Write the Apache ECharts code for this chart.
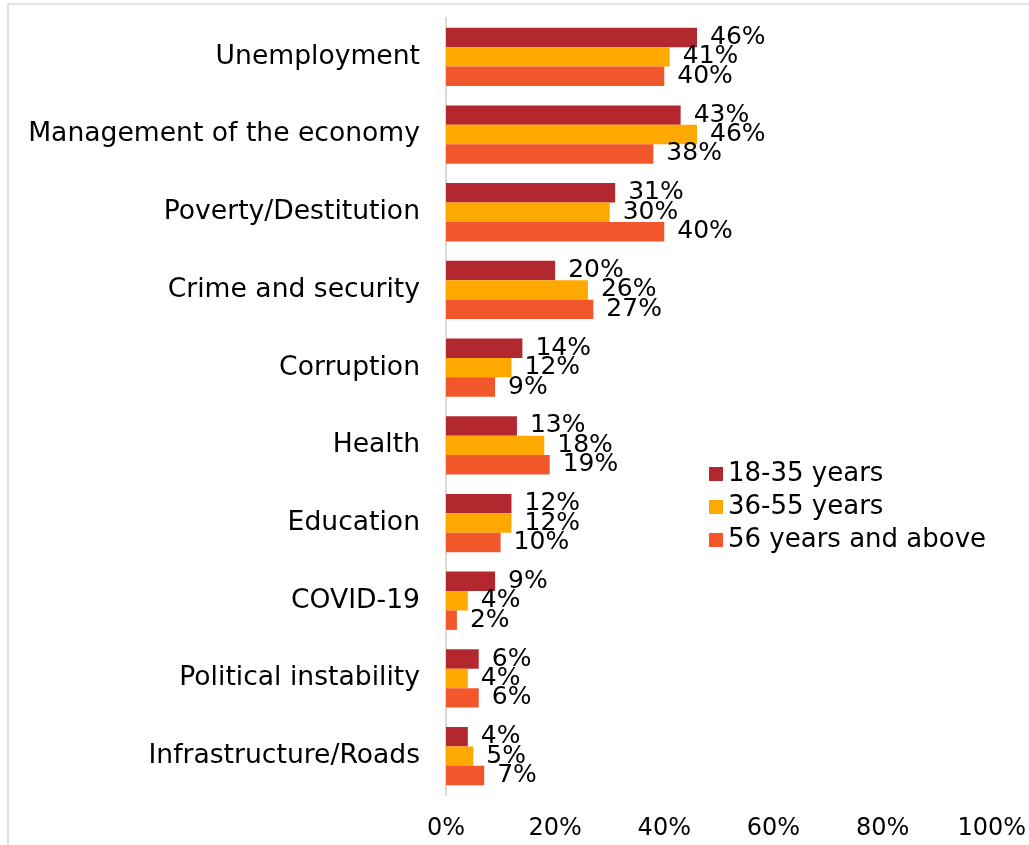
<!DOCTYPE html>
<html>
<head>
<meta charset="utf-8">
<script src="https://cdn.jsdelivr.net/npm/echarts@6/dist/echarts.min.js"></script>
<style>
  html, body { margin: 0; padding: 0; background: #fff; }
  #chart { width: 1029px; height: 845px; }
</style>
</head>
<body>
<div id="chart"></div>
<script>
// Most important problems facing the country, by age group (%)
const categories = [
  'Unemployment',
  'Management of the economy',
  'Poverty/Destitution',
  'Crime and security',
  'Corruption',
  'Health',
  'Education',
  'COVID-19',
  'Political instability',
  'Infrastructure/Roads'
];
const seriesNames = ['18-35 years', '36-55 years', '56 years and above'];
const age18to35 = [46, 43, 31, 20, 14, 13, 12, 9, 6, 4];
const age36to55 = [41, 46, 30, 26, 12, 18, 12, 4, 4, 5];
const age56plus = [40, 38, 40, 27, 9, 19, 10, 2, 6, 7];
const xTicks = [0, 20, 40, 60, 80, 100];
const colors = ['#B3282E', '#FFA800', '#F1572B'];

const FONT = 'DejaVu Sans';
const seriesData = [age18to35, age36to55, age56plus];

const chart = echarts.init(document.getElementById('chart'));
chart.setOption({
  animation: false,
  textStyle: { fontFamily: FONT },
  graphic: [{
    type: 'rect',
    shape: { x: 8, y: 4, width: 1040, height: 860 },
    style: { fill: 'none', stroke: '#D9D9D9', lineWidth: 1.5 },
    silent: true
  }],
  grid: { left: 446, right: 34, top: 18, bottom: 50 },
  legend: {
    orient: 'vertical',
    left: 704,
    top: 456,
    itemWidth: 14,
    itemHeight: 14,
    itemGap: 7,
    icon: 'rect',
    textStyle: { fontFamily: FONT, fontSize: 26, color: '#000' },
    data: seriesNames
  },
  xAxis: {
    type: 'value',
    min: xTicks[0],
    max: xTicks[xTicks.length - 1],
    interval: xTicks[1] - xTicks[0],
    axisLine: { show: false },
    axisTick: { show: false },
    splitLine: { show: false },
    axisLabel: {
      formatter: '{value}%',
      fontFamily: FONT,
      fontSize: 24,
      color: '#000',
      margin: 22
    }
  },
  yAxis: {
    type: 'category',
    inverse: true,
    data: categories,
    axisLine: { show: true, lineStyle: { color: '#D9D9D9', width: 2 } },
    axisTick: { show: false },
    axisLabel: {
      fontFamily: FONT,
      fontSize: 26.6,
      color: '#000',
      margin: 26
    }
  },
  series: seriesNames.map((name, i) => ({
    name,
    type: 'bar',
    data: seriesData[i],
    barGap: '0%',
    barCategoryGap: '25%',
    itemStyle: { color: colors[i] },
    label: {
      show: true,
      position: 'right',
      distance: 13,
      formatter: '{c}%',
      fontFamily: FONT,
      fontSize: 25,
      color: '#000'
    }
  }))
});
</script>
</body>
</html>
